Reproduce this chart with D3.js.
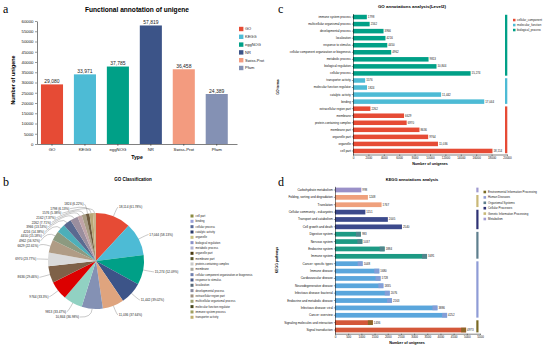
<!DOCTYPE html>
<html><head><meta charset="utf-8">
<script src="https://cdn.jsdelivr.net/npm/d3@7"></script>
<style>
body{margin:0;background:#fff}
svg{display:block}
text{font-family:"Liberation Sans",Arial,sans-serif}
.pl{font-family:"Liberation Serif","Times New Roman",serif}
</style>
</head><body>
<svg id="fig" width="550" height="349"></svg>
<script>
// ---------- Panel a data ----------
const typeNames = ["GO","KEGG","eggNOG","NR","Swiss-Prot","Pfam"];
const typeCounts = [29080,33971,37785,57819,36458,24389];
const typeTicks = [0,5000,10000,15000,20000,25000,30000,35000,40000,45000,50000,55000,60000];

// ---------- Panel c data ----------
const goTerms = ["immune system process","multicellular organismal process","developmental process","localization",
  "response to stimulus","cellular component organization or biogenesis","metabolic process","biological regulation",
  "cellular process","transporter activity","molecular function regulator","catalytic activity","binding",
  "extracellular region part","membrane","protein-containing complex","membrane part","organelle part","organelle","cell part"];
const goCounts = [1798,2162,3966,4216,4450,4962,9813,10844,15274,1576,1824,11442,17044,2262,6629,6970,8636,9764,11036,18114];
const goGroups = ["biological_process","biological_process","biological_process","biological_process","biological_process",
  "biological_process","biological_process","biological_process","biological_process","molecular_function",
  "molecular_function","molecular_function","molecular_function","cellular_component","cellular_component",
  "cellular_component","cellular_component","cellular_component","cellular_component","cellular_component"];
const goGroupNames = ["cellular_component","molecular_function","biological_process"];
const goTicks = [0,2000,4000,6000,8000,10000,12000,14000,16000,18000,20000];

// ---------- Panel b data ----------
const pieTerms = ["cell part","binding","cellular process","catalytic activity","organelle","biological regulation",
  "metabolic process","organelle part","membrane part","protein-containing complex","membrane",
  "cellular component organization or biogenesis","response to stimulus","localization","developmental process",
  "extracellular region part","multicellular organismal process","molecular function regulator",
  "immune system process","transporter activity"];
const pieCounts = [18114,17044,15274,11442,11036,10844,9813,9764,8636,6970,6629,4962,4450,4216,3966,2262,2162,1824,1798,1576];
const piePercents = ["61.78%","58.13%","52.09%","39.02%","37.64%","36.98%","33.47%","33.3%","29.46%","23.77%",
  "22.61%","16.92%","15.18%","14.38%","13.53%","7.71%","7.37%","6.22%","6.13%","5.38%"];

// ---------- Panel d data ----------
const keggPathways = ["Carbohydrate metabolism","Folding, sorting and degradation","Translation",
  "Cellular community - eukaryotes","Transport and catabolism","Cell growth and death","Digestive system",
  "Nervous system","Endocrine system","Immune system","Cancer: specific types","Immune disease",
  "Cardiovascular disease","Neurodegenerative disease","Infectious disease: bacterial",
  "Endocrine and metabolic disease","Infectious disease: viral","Cancer: overview",
  "Signaling molecules and interaction","Signal transduction"];
const keggCounts = [998,1248,1767,1151,2005,2540,983,1037,1884,3491,1048,1680,1728,1835,2076,2163,3886,4252,1436,4973];
const keggGroups = ["Metabolism","Genetic Information Processing","Genetic Information Processing",
  "Cellular Processes","Cellular Processes","Cellular Processes","Organismal Systems","Organismal Systems",
  "Organismal Systems","Organismal Systems","Human Diseases","Human Diseases","Human Diseases","Human Diseases",
  "Human Diseases","Human Diseases","Human Diseases","Human Diseases",
  "Environmental Information Processing","Environmental Information Processing"];
const keggGroupNames = ["Environmental Information Processing","Human Diseases","Organismal Systems",
  "Cellular Processes","Genetic Information Processing","Metabolism"];
const keggTicks = [0,500,1000,1500,2000,2500,3000,3500,4000,4500,5000,5500];

// ---------- styles ----------
const typeColors = ["#E64B35","#4DBBD5","#00A087","#3C5488","#F39B7F","#8491B4"];
const goColors = {cellular_component:"#E64B35", molecular_function:"#4DBBD5", biological_process:"#00A087"};
const sliceColors = ["#E64B35","#4DBBD5","#00A087","#3C5488","#DFA47E","#8491B4","#91D1C2","#DC0000","#7E6148",
  "#DADADA","#B09C85","#8C9A80","#4DAFB9","#5A6A90","#9A8E9E","#C0A4A8","#A89C84","#6E5A3E","#B8A878","#C8B48C"];
const pieLegendColors = ["#8A8A40","#9AA0D8","#5A6A9A","#2A3A6A","#C8C080","#8A90C8","#B0B0D0","#4A3A10",
  "#5A5A30","#C8C8C8","#A8A8A0","#7080B0","#4A5A8A","#5A6A7A","#8A8AA0","#A09080","#A0A070","#4A4A20","#A0A060","#C0B070"];
const keggBarColors = {"Metabolism":"#9A90C8","Genetic Information Processing":"#EFA07C","Cellular Processes":"#3C4A8C",
  "Organismal Systems":"#1D9A84","Human Diseases":"#5AA6DC","Environmental Information Processing":"#D4583A"};
const keggGroupColors = {"Metabolism":"#A09AD0","Genetic Information Processing":"#C9B877","Cellular Processes":"#2E3274",
  "Organismal Systems":"#5E7F8E","Human Diseases":"#8F9CD6","Environmental Information Processing":"#7A6A24"};
const keggCapGroups = ["Organismal Systems","Human Diseases","Environmental Information Processing"];

const svg = d3.select("#fig");
const fmtBig = v => v >= 10000 ? d3.format(",")(v) : String(v);

function styleAxis(g, fs){
  g.selectAll("path.domain").attr("stroke","#000").attr("stroke-width",0.5);
  g.selectAll(".tick line").attr("stroke","#000").attr("stroke-width",0.4);
  g.selectAll(".tick text").attr("font-size",fs).attr("fill","#111").attr("font-family",'"Liberation Sans",Arial,sans-serif');
}

// ================= Panel a =================
(function(){
  const g = svg.append("g");
  g.append("text").attr("class","pl").attr("x",3).attr("y",13).attr("font-size",12).text("a");
  const x = d3.scaleBand().domain(typeNames).range([37,237]).paddingInner(0.33).paddingOuter(0.2).align(0.3);
  const y = d3.scaleLinear().domain([0,60000]).range([144,21]);
  g.selectAll("rect.bar").data(typeNames).join("rect")
    .attr("x",d=>x(d)).attr("y",(d,i)=>y(typeCounts[i]))
    .attr("width",x.bandwidth()).attr("height",(d,i)=>y(0)-y(typeCounts[i]))
    .attr("fill",(d,i)=>typeColors[i]);
  g.selectAll("text.val").data(typeNames).join("text")
    .attr("x",d=>x(d)+x.bandwidth()/2).attr("y",(d,i)=>y(typeCounts[i])-1.5)
    .attr("text-anchor","middle").attr("font-size",5).attr("fill","#222")
    .text((d,i)=>d3.format(",")(typeCounts[i]));
  const ya = g.append("g").attr("transform","translate(37,0)")
    .call(d3.axisLeft(y).tickValues(typeTicks).tickFormat(d3.format("d")).tickSize(2).tickSizeOuter(0).tickPadding(1.5));
  styleAxis(ya,4.3);
  const xa = g.append("g").attr("transform","translate(0,144)")
    .call(d3.axisBottom(x).tickSize(2).tickSizeOuter(0).tickPadding(2));
  styleAxis(xa,4.3);
  g.append("text").attr("x",137).attr("y",12).attr("text-anchor","middle").attr("font-size",6.6)
    .attr("font-weight","bold").text("Functional annotation of unigene");
  g.append("text").attr("transform","translate(15,80) rotate(-90)").attr("text-anchor","middle")
    .attr("font-size",5.4).attr("font-weight","bold").text("Number of unigene");
  g.append("text").attr("x",137).attr("y",159).attr("text-anchor","middle").attr("font-size",5.2)
    .attr("font-weight","bold").text("Type");
  const lg = g.append("g");
  typeNames.forEach((n,i)=>{
    lg.append("rect").attr("x",239).attr("y",26.8+i*7.8).attr("width",4.4).attr("height",4.4).attr("fill",typeColors[i]);
    lg.append("text").attr("x",245).attr("y",29+i*7.8).attr("dy","0.35em").attr("font-size",4).attr("fill","#222").text(n);
  });
})();

// ================= Panel c =================
(function(){
  const g = svg.append("g");
  g.append("text").attr("class","pl").attr("x",278).attr("y",13).attr("font-size",12).text("c");
  const y = d3.scaleBand().domain(goTerms).range([13.5,154.5]).paddingInner(0.36).paddingOuter(0.18);
  const x = d3.scaleLinear().domain([0,20000]).range([353,507]);
  g.selectAll("rect.bar").data(goTerms).join("rect")
    .attr("x",x(0)).attr("y",d=>y(d)).attr("height",y.bandwidth())
    .attr("width",(d,i)=>x(goCounts[i])-x(0)).attr("fill",(d,i)=>goColors[goGroups[i]]);
  g.selectAll("text.val").data(goTerms).join("text")
    .attr("x",(d,i)=>x(goCounts[i])+1).attr("y",d=>y(d)+y.bandwidth()/2).attr("dy","0.35em")
    .attr("font-size",2.9).attr("fill","#222").text((d,i)=>fmtBig(goCounts[i]));
  const ya = g.append("g").attr("transform",`translate(${x(0)},0)`)
    .call(d3.axisLeft(y).tickSize(1.2).tickSizeOuter(0).tickPadding(1));
  styleAxis(ya,3);
  const xa = g.append("g").attr("transform",`translate(0,${y.range()[1]})`)
    .call(d3.axisBottom(x).tickValues(goTicks).tickFormat(d3.format("d")).tickSize(1.5).tickSizeOuter(0).tickPadding(1));
  styleAxis(xa,3);
  g.append("text").attr("x",412).attr("y",8).attr("text-anchor","middle").attr("font-size",4.4)
    .attr("font-weight","bold").text("GO annotations analysis(Level2)");
  g.append("text").attr("x",430).attr("y",165).attr("text-anchor","middle").attr("font-size",3.7)
    .attr("font-weight","bold").text("Number of unigenes");
  g.append("text").attr("transform","translate(279,87) rotate(-90)").attr("text-anchor","middle")
    .attr("font-size",3.4).attr("font-weight","bold").text("GO terms");
  goGroupNames.forEach(gn=>{
    const rows = goTerms.filter((t,i)=>goGroups[i]===gn);
    const y0 = d3.min(rows,t=>y(t)), y1 = d3.max(rows,t=>y(t)+y.bandwidth());
    g.append("rect").attr("x",505).attr("y",y0).attr("width",2.3).attr("height",y1-y0).attr("fill",goColors[gn]);
  });
  goGroupNames.forEach((gn,i)=>{
    g.append("rect").attr("x",513).attr("y",18.8+i*5).attr("width",2.5).attr("height",2.5).attr("fill",goColors[gn]);
    g.append("text").attr("x",517).attr("y",20+i*5).attr("dy","0.35em").attr("font-size",2.9).attr("fill","#222").text(gn);
  });
})();

// ================= Panel b =================
(function(){
  const g = svg.append("g");
  g.append("text").attr("class","pl").attr("x",3).attr("y",186).attr("font-size",12).text("b");
  g.append("text").attr("x",133).attr("y",181).attr("text-anchor","middle").attr("font-size",4.5)
    .attr("font-weight","bold").text("GO Classification");
  const cx = 96, cy = 261, r = 48;
  const pie = d3.pie().sort(null).value(d=>d);
  const arcs = pie(pieCounts);
  const arc = d3.arc().innerRadius(0).outerRadius(r);
  const pg = g.append("g").attr("transform",`translate(${cx},${cy})`);
  pg.selectAll("path").data(arcs).join("path").attr("d",arc).attr("fill",(d,i)=>sliceColors[i]);
  const R = 58;
  const labs = arcs.map((a,i)=>{
    const m = (a.startAngle+a.endAngle)/2;
    const side = Math.sin(m) >= 0 ? 1 : -1;
    let dy = -R*Math.cos(m);
    dy = Math.max(-57, Math.min(56, dy));
    return {i, m, side, dy};
  });
  [1,-1].forEach(s=>{
    const L = labs.filter(d=>d.side===s).sort((a,b)=>a.dy-b.dy);
    for(let k=1;k<L.length;k++){ if(L[k].dy < L[k-1].dy+4.6) L[k].dy = L[k-1].dy+4.6; }
  });
  labs.forEach(d=>{
    const dx = Math.sqrt(Math.max(0,R*R-d.dy*d.dy));
    d.x = cx + d.side*(dx+1);
    d.y = cy + d.dy;
    const ex = cx + r*Math.sin(d.m), ey = cy - r*Math.cos(d.m);
    const kx = cx + (r+9)*Math.sin(d.m), ky = cy - (r+9)*Math.cos(d.m);
    d.path = `M${ex},${ey}Q${kx},${ky} ${d.x},${d.y}`;
  });
  g.selectAll("path.lead").data(labs).join("path").attr("d",d=>d.path)
    .attr("fill","none").attr("stroke","#777").attr("stroke-width",0.4);
  g.selectAll("text.plab").data(labs).join("text")
    .attr("x",d=>d.x+d.side*0.8).attr("y",d=>d.y).attr("dy","0.35em")
    .attr("text-anchor",d=>d.side>0?"start":"end").attr("font-size",3.2).attr("fill","#222")
    .text(d=>`${fmtBig(pieCounts[d.i])} (${piePercents[d.i]})`);
  pieTerms.forEach((t,i)=>{
    g.append("rect").attr("x",190.5).attr("y",214.5+i*5.33).attr("width",3).attr("height",3).attr("fill",pieLegendColors[i]);
    g.append("text").attr("x",195.5).attr("y",216+i*5.33).attr("dy","0.35em").attr("font-size",2.8).attr("fill","#222").text(t);
  });
})();

// ================= Panel d =================
(function(){
  const g = svg.append("g");
  g.append("text").attr("class","pl").attr("x",278).attr("y",186).attr("font-size",12).text("d");
  const y = d3.scaleBand().domain(keggPathways).range([186.3,333.7]).paddingInner(0.36).paddingOuter(0.18);
  const x = d3.scaleLinear().domain([0,5500]).range([335,480]);
  g.selectAll("rect.bar").data(keggPathways).join("rect")
    .attr("x",x(0)).attr("y",d=>y(d)).attr("height",y.bandwidth())
    .attr("width",(d,i)=>x(keggCounts[i])-x(0)).attr("fill",(d,i)=>keggBarColors[keggGroups[i]]);
  const capRows = keggPathways.filter((d,i)=>keggCapGroups.includes(keggGroups[i]));
  g.selectAll("rect.cap").data(capRows).join("rect")
    .attr("x",d=>x(keggCounts[keggPathways.indexOf(d)])-5).attr("y",d=>y(d)).attr("height",y.bandwidth())
    .attr("width",5).attr("fill",d=>keggGroupColors[keggGroups[keggPathways.indexOf(d)]])
    .attr("opacity",0.8);
  g.selectAll("text.val").data(keggPathways).join("text")
    .attr("x",(d,i)=>x(keggCounts[i])+1).attr("y",d=>y(d)+y.bandwidth()/2).attr("dy","0.35em")
    .attr("font-size",2.9).attr("fill","#222").text((d,i)=>String(keggCounts[i]));
  const ya = g.append("g").attr("transform",`translate(${x(0)},0)`)
    .call(d3.axisLeft(y).tickSize(1.2).tickSizeOuter(0).tickPadding(1));
  styleAxis(ya,3.1);
  const xa = g.append("g").attr("transform",`translate(0,${y.range()[1]})`)
    .call(d3.axisBottom(x).tickValues(keggTicks).tickFormat(d3.format("d")).tickSize(1.5).tickSizeOuter(0).tickPadding(1));
  styleAxis(xa,3);
  g.append("text").attr("x",412).attr("y",181).attr("text-anchor","middle").attr("font-size",4)
    .attr("font-weight","bold").text("KEGG annotations analysis");
  g.append("text").attr("x",407).attr("y",344).attr("text-anchor","middle").attr("font-size",3.7)
    .attr("font-weight","bold").text("Number of unigenes");
  g.append("text").attr("transform","translate(278,260) rotate(-90)").attr("text-anchor","middle")
    .attr("font-size",3.4).attr("font-weight","bold").text("KEGG pathways");
  keggGroupNames.forEach(gn=>{
    const rows = keggPathways.filter((t,i)=>keggGroups[i]===gn);
    const y0 = d3.min(rows,t=>y(t)), y1 = d3.max(rows,t=>y(t)+y.bandwidth());
    g.append("rect").attr("x",476.3).attr("y",y0).attr("width",2.2).attr("height",y1-y0).attr("fill",keggGroupColors[gn]);
  });
  keggGroupNames.forEach((gn,i)=>{
    g.append("rect").attr("x",483.5).attr("y",190.7+i*5.4).attr("width",2.6).attr("height",2.6).attr("fill",keggGroupColors[gn]);
    g.append("text").attr("x",488).attr("y",192+i*5.4).attr("dy","0.35em").attr("font-size",2.9).attr("fill","#222").text(gn);
  });
})();
</script>
</body></html>
